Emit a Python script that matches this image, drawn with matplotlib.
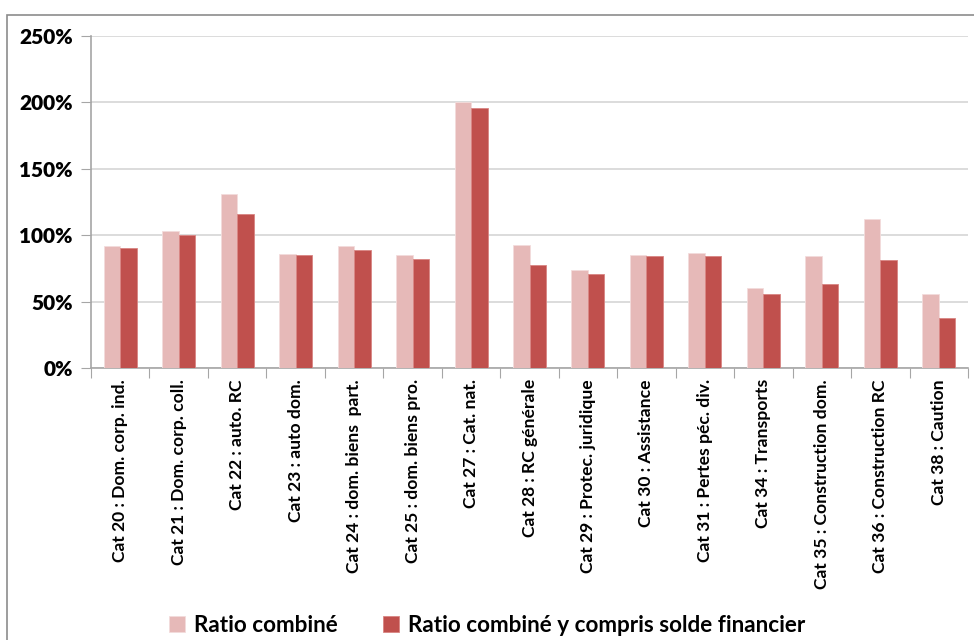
import matplotlib.pyplot as plt
import numpy as np
from matplotlib.patches import Rectangle
from matplotlib.ticker import FuncFormatter

categories = [
    "Cat 20 : Dom. corp. ind.",
    "Cat 21 : Dom. corp. coll.",
    "Cat 22 : auto. RC",
    "Cat 23 : auto dom.",
    "Cat 24 : dom. biens  part.",
    "Cat 25 : dom. biens pro.",
    "Cat 27 : Cat. nat.",
    "Cat 28 : RC générale",
    "Cat 29 : Protec. juridique",
    "Cat 30 : Assistance",
    "Cat 31 : Pertes péc. div.",
    "Cat 34 : Transports",
    "Cat 35 : Construction dom.",
    "Cat 36 : Construction RC",
    "Cat 38 : Caution",
]
ratio_combine = [92, 103, 131, 86, 91.5, 85, 200, 92.5, 73.5, 85, 86.5, 60, 84, 112, 56]
ratio_financier = [90.5, 100, 116, 85, 88.5, 82, 196, 77.5, 71, 84.5, 84, 55.5, 63.5, 81, 38]

plt.rcParams['font.family'] = ['Lato', 'DejaVu Sans']

fig = plt.figure(figsize=(9.74, 6.4), dpi=100)
ax = fig.add_axes([91 / 974, 1 - 368 / 640, 877 / 974, 332 / 640])

# outer frame of the chart area
fig.patches.append(Rectangle((7 / 974, -0.05), 1.0, 1 - 15 / 640 + 0.05,
                             transform=fig.transFigure, fill=False,
                             edgecolor='#8c8c8c', linewidth=1.2))

x = np.arange(len(categories))
w = 0.282
ax.bar(x - w / 2, ratio_combine, w, color='#E6B9B8', edgecolor='#f3dcdc',
       linewidth=0.6, label='Ratio combiné', zorder=3)
ax.bar(x + w / 2, ratio_financier, w, color='#C0504D', edgecolor='#d98583',
       linewidth=0.6, label='Ratio combiné y compris solde financier', zorder=3)

ax.set_xlim(-0.5, len(categories) - 0.5)
ax.set_ylim(0, 250)
ax.set_yticks(np.arange(0, 251, 50))
ax.yaxis.set_major_formatter(FuncFormatter(lambda v, p: f"{v:.0f}%"))
ax.grid(axis='y', color='#d9d9d9', linewidth=1.3, zorder=0)

ax.set_xticks(np.arange(-0.5, len(categories), 1.0), minor=False)
ax.set_xticklabels([])
ax.set_xticks(x, minor=True)
ax.set_xticklabels(categories, minor=True, rotation=90, ha='center', va='top',
                   fontsize=12.6, fontweight='bold')
ax.tick_params(axis='x', which='minor', length=0, pad=8)
ax.tick_params(axis='x', which='major', length=7, color='#a6a6a6')
ax.tick_params(axis='y', length=7, color='#a6a6a6', labelsize=15, pad=6)
for lab in ax.get_yticklabels():
    lab.set_fontweight('heavy')

for side in ['top', 'right']:
    ax.spines[side].set_visible(False)
for side in ['left', 'bottom']:
    ax.spines[side].set_color('#a6a6a6')
    ax.spines[side].set_linewidth(1.2)

leg = fig.legend(loc='center', bbox_to_anchor=(0.5, 1 - 625 / 640), ncol=2,
                 frameon=False, handlelength=0.7, handleheight=0.7,
                 handletextpad=0.4, columnspacing=2.0,
                 prop={'size': 16.2, 'weight': 'bold'})

fig.savefig('out.png', dpi=100)
